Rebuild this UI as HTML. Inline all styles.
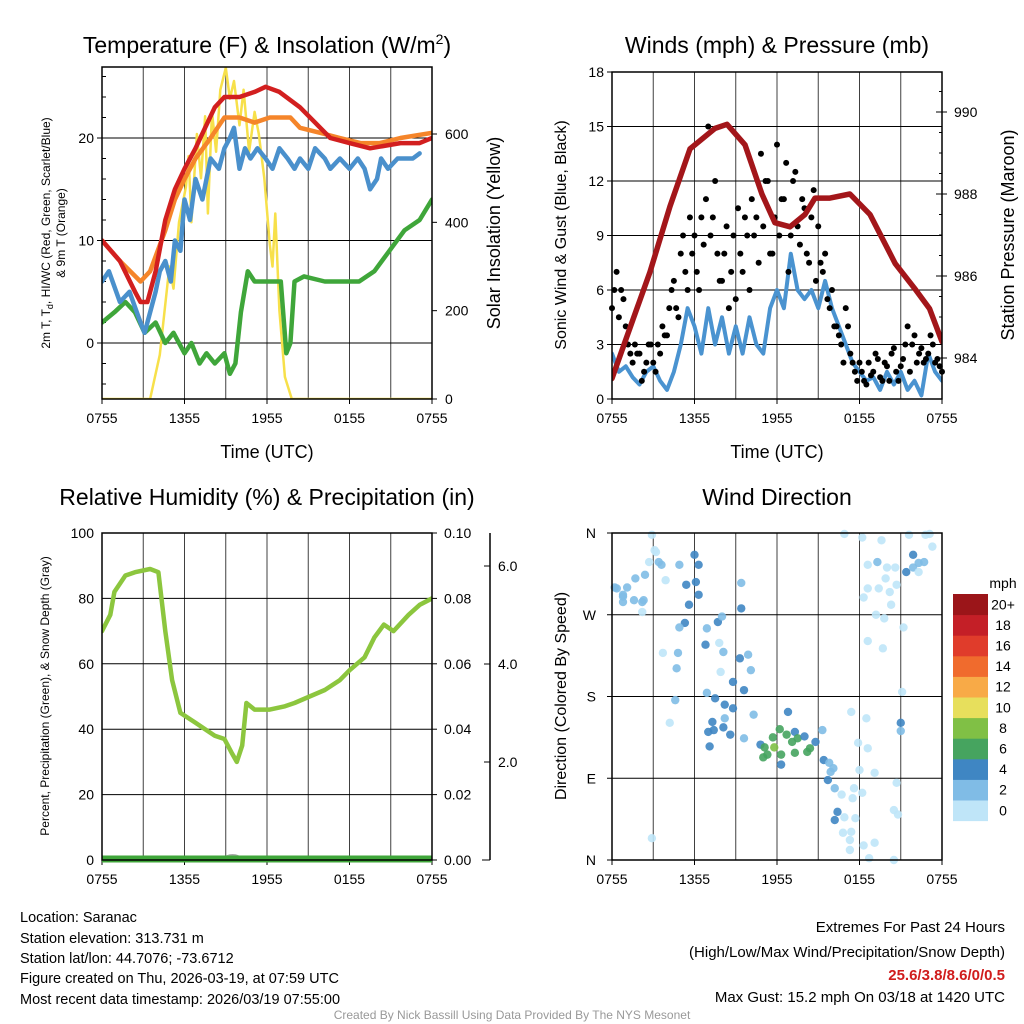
<!DOCTYPE html>
<html><head><meta charset="utf-8"><style>
html,body{margin:0;padding:0;background:#fff;}
svg{display:block;font-family:"Liberation Sans",sans-serif;}
</style></head><body>
<svg id="fig" width="1024" height="1024" viewBox="0 0 1024 1024" xmlns="http://www.w3.org/2000/svg">
<text x="267" y="53" font-size="23" text-anchor="middle">Temperature (F) &amp; Insolation (W/m<tspan dy="-9" font-size="14">2</tspan><tspan dy="9">)</tspan></text>
<text x="777" y="53" font-size="23" text-anchor="middle">Winds (mph) &amp; Pressure (mb)</text>
<text x="267" y="505" font-size="23" text-anchor="middle">Relative Humidity (%) &amp; Precipitation (in)</text>
<text x="777" y="505" font-size="23" text-anchor="middle">Wind Direction</text>

<text transform="translate(50,233) rotate(-90)" font-size="12" text-anchor="middle">2m T, T<tspan dy="3" font-size="9">d</tspan><tspan dy="-3">, HI/WC (Red, Green, Scarlet/Blue)</tspan></text>
<text transform="translate(65,233) rotate(-90)" font-size="12" text-anchor="middle">&amp; 9m T (Orange)</text>
<text transform="translate(500,233) rotate(-90)" font-size="18" text-anchor="middle">Solar Insolation (Yellow)</text>
<text x="267" y="458" font-size="18" text-anchor="middle">Time (UTC)</text>
<text transform="translate(566,235) rotate(-90)" font-size="16" text-anchor="middle">Sonic Wind &amp; Gust (Blue, Black)</text>
<text transform="translate(1014,235) rotate(-90)" font-size="18" text-anchor="middle">Station Pressure (Maroon)</text>
<text x="777" y="458" font-size="18" text-anchor="middle">Time (UTC)</text>
<text transform="translate(49,696) rotate(-90)" font-size="12" text-anchor="middle">Percent, Precipitation (Green), &amp; Snow Depth (Gray)</text>
<text transform="translate(566,696) rotate(-90)" font-size="16" text-anchor="middle">Direction (Colored By Speed)</text>

<g font-size="14.5">
<text x="20" y="922">Location: Saranac</text>
<text x="20" y="943">Station elevation: 313.731 m</text>
<text x="20" y="963">Station lat/lon: 44.7076; -73.6712</text>
<text x="20" y="983">Figure created on Thu, 2026-03-19, at 07:59 UTC</text>
<text x="20" y="1004">Most recent data timestamp: 2026/03/19 07:55:00</text>
</g>
<g font-size="15" text-anchor="end">
<text x="1005" y="932">Extremes For Past 24 Hours</text>
<text x="1005" y="957">(High/Low/Max Wind/Precipitation/Snow Depth)</text>
<text x="1005" y="980" fill="#d01c1c" font-weight="bold">25.6/3.8/8.6/0/0.5</text>
<text x="1005" y="1002">Max Gust: 15.2 mph On 03/18 at 1420 UTC</text>
</g>
<text x="512" y="1019" font-size="12" fill="#999" text-anchor="middle">Created By Nick Bassill Using Data Provided By The NYS Mesonet</text>
</svg>
<script>
// ---- Temperature panel data (hours since 0755 UTC) ----
const xTickLabels = ["0755","1355","1955","0155","0755"];
const tempTimes = [0,1.3,2.4,2.8,3.3,3.9,4.6,5.3,6.0,6.8,7.5,8.2,8.9,10,11.1,11.9,12.9,14.4,15.5,16.6,18,19.5,21.7,23.1,24];
const tempRed = [10,8,5,4,4,7,12,15,17,19,21,23,24,24,24.5,25,24.5,23,21.5,20,19.5,19,19.5,19.5,20];
const temp9mTimes = [0,1.3,2.8,3.5,4.6,5.3,6.0,6.8,7.9,8.9,10,11.1,12.2,13.7,14.4,15.9,17.3,18.8,20.2,21.7,24];
const temp9mOrange = [10,8,6,7,11,14,16,18,20,22,22,21.5,22,22,21,20.5,20,19.5,19.5,20,20.5];
const wcTimes = [0,0.5,1.3,2.0,2.8,3.1,3.3,3.9,4.2,4.6,5.0,5.3,5.7,6.0,6.4,6.8,7.3,7.9,8.5,8.9,9.3,9.6,10.0,10.4,10.8,11.3,11.9,12.4,12.9,13.5,14.0,14.4,15.0,15.5,16.2,16.6,17.3,18.0,18.6,19.1,19.5,20.0,20.3,20.8,21.5,22.0,22.6,23.1];
const wcBlue = [6,7,4,5,2,1,2,5,7,8,6,10,9,14,12,16,14,18,17,19,20,21,17,19,18,19,18,17,19,18,17,18,17,19,18,17,18,17,18,17,15,16,18,17,18,18,18,18.5];
const dewTimes = [0,0.9,1.7,2.4,3.1,3.9,4.6,5.2,6.0,6.5,7.1,7.6,8.2,8.9,9.3,9.7,10.1,10.6,11.1,12.2,13.0,13.4,13.7,14.0,14.7,16.2,17.6,18.7,19.8,20.9,22.0,23.1,24];
const dewGreen = [2,3,4,3,1,2,0,1,-1,0,-2,-1,-2,-1,-3,-2,3,7,6,6,6,-1,0,6,6.5,6,6,6,7,9,11,12,14];
const solarTimes = [0,3.5,4.2,4.9,5.2,5.6,6.1,6.3,6.5,6.9,7.2,7.5,7.7,8.0,8.3,8.6,9.0,9.3,9.6,10.0,10.3,10.7,11.1,11.4,11.8,12.2,12.4,12.6,12.9,13.3,13.8,24];
const solarYellow = [0,0,100,300,250,400,480,550,400,600,500,640,420,650,560,700,750,680,720,620,700,560,650,600,500,350,300,420,200,50,0,0];
const tempTicks = [0,10,20];
const solarTicks = [0,200,400,600];

// ---- Wind / pressure panel ----
const pressTimes = [0,0.95,2.76,4.22,5.67,7.49,8.36,9.67,10.9,11.85,12.95,14.04,14.76,15.85,17.3,18.76,20.6,22.0,23.1,24];
const pressure = [983.5,984.4,986.1,987.7,989.1,989.6,989.7,989.2,988.0,987.3,987.2,987.5,987.9,987.9,988.0,987.5,986.3,985.7,985.2,984.4];
const windSpeed = [2.5,1.5,1.8,1.2,0.8,1.5,1.8,1.0,0.5,1.5,3,5,4,2.5,5,3,4.5,2.5,4,2.5,4.5,3,2.5,5,6,5,8,6,5.5,6,5,6.5,5,4,3,2,1.5,1,1.2,0.5,1.5,0.8,1.5,0.5,1,0.2,2.5,1.5,1];
const gusts = [5,7,6,4,2.5,3,2.5,1.5,3,2,3,4,3.5,6,5,8,7,10,9,6,8.5,15,10,8,6.5,9.5,7,5.5,8,10,6,9,7.5,9.5,12,8,14,11,13,9,12.5,8.5,10.5,7.5,11.5,9.5,7,5.5,6,4,3,5,2.5,1.5,2,1,2,1.5,2.2,1,1.8,2.5,1.5,1.8,3,1.5,3.5,2.5,2,2.5,3,2.2,1.5];
const gusts2 = [6,4.5,5.5,3,2,2.5,1,2,3,1.5,2.5,3.5,5,6.5,4.5,9,6,8,7,10,11,9,12,6.5,8,5,9,10.5,7,9,11,10,13.5,12,8,10,9,11,7,12,9.5,11,8,10,6.5,7.5,8,5,4,3.5,2,4,2,1,1.5,0.8,1.3,2.5,1.2,2,1,2.8,1,2.2,4,3,2,2.8,2.2,3.5,2,1.8];
const windTicks = [0,3,6,9,12,15,18];
const pressTicks = [984,986,988,990];

// ---- Humidity panel ----
const rhTimes = [0,0.6,0.9,1.7,2.4,3.5,4.1,4.6,5.1,5.7,6.8,7.5,8.2,8.9,9.4,9.8,10.2,10.5,11.1,12.2,13.3,14.0,15.1,16.2,17.3,18.0,19.1,19.8,20.5,21.2,22.3,23.1,24];
const rhGreen = [70,75,82,87,88,89,88,70,55,45,42,40,38,37,33,30,35,48,46,46,47,48,50,52,55,58,62,68,72,70,75,78,80];
const rhTicks = [0,20,40,60,80,100];
const precipTicks = ["0.00","0.02","0.04","0.06","0.08","0.10"];
const snowTicks = ["2.0","4.0","6.0"];

// ---- Wind direction panel ----
const dirTimes = [0.35,1.1,0.8,1.7,2.4,2.2,2.9,3.2,3.6,3.9,4.9,6.0,6.3,5.4,6.1,5.6,6.3,5.3,4.9,3.7,4.8,4.7,4.6,4.2,2.9,6.8,6.9,7.7,8.0,7.8,8.1,7.9,8.8,9.3,9.9,10.1,9.6,9.4,9.4,6.9,7.5,8.2,8.8,7.3,7.4,7.0,7.1,8.1,8.6,8.2,9.6,10.3,10.8,11.1,11.7,11.8,11.3,11.0,12.3,12.3,12.2,12.8,12.7,13.1,13.3,13.5,14.0,14.2,14.4,13.3,14.8,15.3,15.4,15.8,16.1,15.9,15.7,16.2,16.7,16.4,16.2,16.9,16.8,17.3,17.4,17.5,17.6,17.7,17.3,18.3,18.2,18.0,17.9,18.6,19.1,19.1,18.7,17.4,18.5,16.9,18.2,18.6,19.3,20.0,19.6,18.6,19.4,19.9,18.3,19.2,19.8,20.2,20.3,20.7,20.6,18.6,19.7,21.2,21.1,21.0,21.0,20.7,20.5,20.8,20.5,21.4,21.9,22.3,22.7,21.9,21.6,22.8,23.1,23.3,22.3,0.2,0.8,0.8,1.6,2.3,2.2,2.7,3.1,3.4];
const dirDeg = [299,300,284,310,314,284,358,339,325,308,325,336,325,303,306,281,292,261,256,228,228,211,176,151,24,237,255,262,268,239,229,207,196,222,226,209,187,277,305,184,178,171,167,152,143,141,125,146,138,156,134,160,127,124,135,124,116,113,116,105,144,163,138,130,141,134,136,119,123,118,130,143,110,107,101,97,88,79,72,53,44,47,30,22,31,68,79,46,11,16,74,99,129,123,96,19,2,163,156,359,355,325,328,322,352,299,299,310,289,270,266,295,281,303,322,241,233,256,185,151,142,85,55,50,0,317,322,327,328,336,358,358,359,345,317,300,290,292,286,286,273,328,341,328];
const dirSpeed = [2,2,2,3,3,2,0,1,2,0,2,4,4,4,4,4,4,4,2,1,2,2,2,1,0,4,2,4,2,1,2,1,4,4,2,2,4,4,2,2,4,4,4,4,4,4,4,4,4,2,2,2,4,6,6,8,6,6,6,4,6,4,6,6,4,6,4,6,6,6,4,2,4,2,2,2,4,2,1,4,4,1,1,1,1,1,0,1,0,0,0,0,0,0,0,0,0,0,0,0,0,0,2,0,0,0,0,0,0,0,0,0,0,0,0,0,0,0,0,4,2,0,0,0,0,4,2,2,2,4,0,0,0,0,0,2,2,2,2,2,0,0,0,2];
const dirTickLabels = ["N","E","S","W","N"];
const speedBinLabels = ["0","2","4","6","8","10","12","14","16","18","20+"];
const speedBinColors = ["#bfe5f8","#80bce6","#3f86c3","#46a45f","#80c045","#e7df5c","#f8aa47","#f06b2d","#e03c2b","#c41f27","#9b1519"];

const NS = "http://www.w3.org/2000/svg";
const svg = document.getElementById("fig");
function el(tag, attrs, parent){const e=document.createElementNS(NS,tag);for(const k in attrs)e.setAttribute(k,attrs[k]);(parent||svg).appendChild(e);return e;}
function lin(d0,d1,r0,r1){return v=>r0+(v-d0)*(r1-r0)/(d1-d0);}

function panelFrame(name,x0,x1,y0,y1){
  const g=el("g",{});
  
  
  const cp=el("clipPath",{id:"clip-"+name},g);
  el("rect",{x:x0,y:y0,width:x1-x0,height:y1-y0},cp);
  return g;
}
function vgrid(g,xs,y0,y1){
  for(let i=0;i<=8;i++){const x=xs(i*3);
    const l=el("line",{x1:x,x2:x,y1:y0,y2:y1,stroke:"#000","stroke-width":1,"stroke-opacity":0.75},g);
    
    }
  xTickLabels.forEach((t,i)=>{const x=xs(i*6);
    el("line",{x1:x,x2:x,y1:y1,y2:y1+5,stroke:"#000"},g);
    const tx=el("text",{x:x,y:y1+24,"font-size":14,"text-anchor":"middle"},g);tx.textContent=t;
    
    });
}
function hline(g,y,x0,x1){const l=el("line",{x1:x0,x2:x1,y1:y,y2:y,stroke:"#000","stroke-width":1},g);
  
  }
function ylabel(g,x,y,t,anchor){const tx=el("text",{x:x,y:y+5,"font-size":14,"text-anchor":anchor},g);tx.textContent=t;
  
  }
function path(g,ts,vs,xs,ys,color,w,name,clip){
  let d="";ts.forEach((t,i)=>{d+=(i?"L":"M")+xs(t).toFixed(1)+","+ys(vs[i]).toFixed(1);});
  const p=el("path",{d:d,fill:"none",stroke:color,"stroke-width":w,"stroke-linejoin":"round","stroke-linecap":"round","clip-path":"url(#clip-"+clip+")"},g);
  
  
}
function box(g,x0,x1,y0,y1){el("rect",{x:x0,y:y0,width:x1-x0,height:y1-y0,fill:"none",stroke:"#000","stroke-width":1.5},g);}

// Panel 1
(function(){
  const x0=102,x1=432,y0=67,y1=399;
  const xs=lin(0,24,x0,x1), ys=lin(0,20,343,138), ysol=lin(0,600,399,134);
  const g=panelFrame("temperature-panel",x0,x1,y0,y1);
  vgrid(g,xs,y0,y1);
  tempTicks.forEach(v=>{hline(g,ys(v),x0,x1);ylabel(g,x0-8,ys(v),String(v),"end");el("line",{x1:x0-5,x2:x0,y1:ys(v),y2:ys(v),stroke:"#000"},g);});
  for(let v=-4;v<=26;v+=2){el("line",{x1:x0,x2:x0+4,y1:ys(v),y2:ys(v),stroke:"#000"},g);}
  solarTicks.forEach(v=>{ylabel(g,x1+13,ysol(v),String(v),"start");el("line",{x1:x1,x2:x1+5,y1:ysol(v),y2:ysol(v),stroke:"#000"},g);});
  path(g,solarTimes,solarYellow,xs,ysol,"#f7e04a",2.5,"solar-insolation-line","temperature-panel");
  path(g,dewTimes,dewGreen,xs,ys,"#3fa63a",4.5,"dewpoint-line","temperature-panel");
  path(g,wcTimes,wcBlue,xs,ys,"#4a90cc",4.5,"wind-chill-line","temperature-panel");
  path(g,temp9mTimes,temp9mOrange,xs,ys,"#f5852a",4.5,"temp-9m-line","temperature-panel");
  path(g,tempTimes,tempRed,xs,ys,"#d21f1f",4.5,"temp-2m-line","temperature-panel");
  box(g,x0,x1,y0,y1);
})();

// Panel 2
(function(){
  const x0=612,x1=942,y0=72,y1=399;
  const xs=lin(0,24,x0,x1), ys=lin(0,18,y1,y0), yp=lin(984,990,358,112);
  const g=panelFrame("wind-panel",x0,x1,y0,y1);
  vgrid(g,xs,y0,y1);
  windTicks.forEach(v=>{hline(g,ys(v),x0,x1);ylabel(g,x0-8,ys(v),String(v),"end");el("line",{x1:x0-5,x2:x0,y1:ys(v),y2:ys(v),stroke:"#000"},g);});
  pressTicks.forEach(v=>{ylabel(g,x1+12,yp(v),String(v),"start");el("line",{x1:x1-6,x2:x1+5,y1:yp(v),y2:yp(v),stroke:"#000"},g);});
  for(let v=983;v<=991;v+=0.5){if(yp(v)>y0&&yp(v)<y1)el("line",{x1:x1-3,x2:x1,y1:yp(v),y2:yp(v),stroke:"#000"},g);}
  path(g,windSpeed.map((v,i)=>i*0.5),windSpeed,xs,ys,"#4a93d0",4,"sonic-wind-line","wind-panel");
  gusts.forEach((v,i)=>{const c=el("circle",{cx:xs(i/3),cy:ys(v),r:3,fill:"#000"},g);
    
    });
  gusts2.forEach((v,i)=>{const c=el("circle",{cx:xs(i/3+1/6),cy:ys(v),r:3,fill:"#000"},g);
    
    });
  path(g,pressTimes,pressure,xs,yp,"#a3161a",5.5,"pressure-line","wind-panel");
  box(g,x0,x1,y0,y1);
})();

// Panel 3
(function(){
  const x0=102,x1=432,y0=533,y1=860;
  const xs=lin(0,24,x0,x1), ys=lin(0,100,y1,y0);
  const g=panelFrame("humidity-panel",x0,x1,y0,y1);
  vgrid(g,xs,y0,y1);
  rhTicks.forEach((v,i)=>{hline(g,ys(v),x0,x1);ylabel(g,x0-8,ys(v),String(v),"end");
    ylabel(g,x1+12,ys(v),precipTicks[i],"start");el("line",{x1:x1,x2:x1+5,y1:ys(v),y2:ys(v),stroke:"#000"},g);});
  const sa=el("line",{x1:490,x2:490,y1:y0,y2:y1,stroke:"#000","stroke-width":1.5},g);
  
  
  el("line",{x1:482,x2:490,y1:y1,y2:y1,stroke:"#000"},g);
  snowTicks.forEach((t,i)=>{const y=y1-(i+1)*98;el("line",{x1:484,x2:490,y1:y,y2:y,stroke:"#000"},g);ylabel(g,498,y,t,"start");});
  path(g,rhTimes,rhGreen,xs,ys,"#8cc63e",4.5,"relative-humidity-line","humidity-panel");
  const sn=el("ellipse",{cx:xs(9.5),cy:y1-2,rx:8,ry:4,fill:"#aaa"},g);
  
  
  const pr=el("line",{x1:x0,x2:x1,y1:y1-1,y2:y1-1,stroke:"#3fa63a","stroke-width":7},g);
  
  
  box(g,x0,x1,y0,y1);
})();

// Panel 4
(function(){
  const x0=612,x1=942,y0=533,y1=860;
  const xs=lin(0,24,x0,x1), ys=lin(0,360,y1,y0);
  const g=panelFrame("wind-direction-panel",x0,x1,y0,y1);
  vgrid(g,xs,y0,y1);
  dirTickLabels.forEach((t,i)=>{const y=ys(i*90);hline(g,y,x0,x1);ylabel(g,x0-16,y,t,"end");el("line",{x1:x0-5,x2:x0,y1:y,y2:y,stroke:"#000"},g);});
  dirTimes.forEach((t,i)=>{const b=Math.min(10,Math.floor(dirSpeed[i]/2));
    const c=el("circle",{cx:xs(t),cy:ys(dirDeg[i]),r:4.2,fill:speedBinColors[b],"fill-opacity":0.9},g);
    
    });
  box(g,x0,x1,y0,y1);
  // colorbar
  const cb=el("g",{});
  
  
  const top=594,h=20.6;
  speedBinLabels.forEach((t,i)=>{const k=10-i;const y=top+k*h;
    el("rect",{x:953,y:y,width:35,height:h+0.5,fill:speedBinColors[i]},cb);
    const tx=el("text",{x:1003,y:y+h/2+5,"font-size":14,"text-anchor":"middle"},cb);tx.textContent=t;
    
    });
  const mt=el("text",{x:1003,y:588,"font-size":14,"text-anchor":"middle"},cb);mt.textContent="mph";
  
  
})();
</script>
</body></html>
